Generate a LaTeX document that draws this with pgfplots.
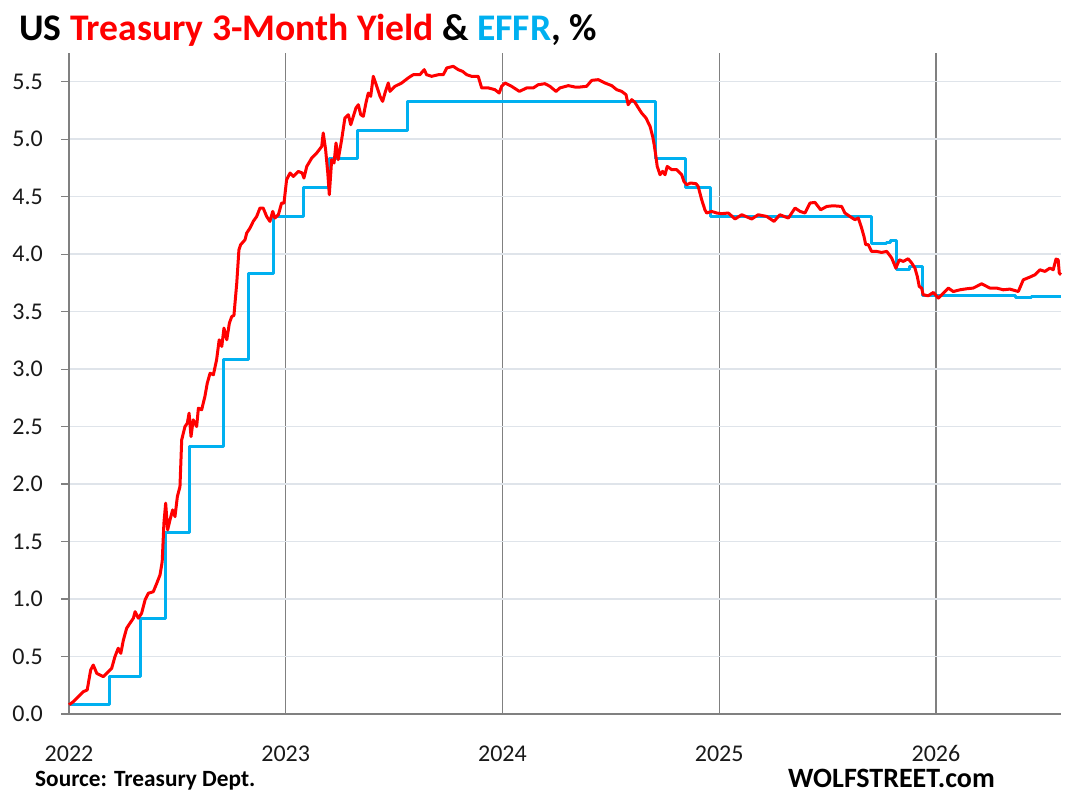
\documentclass[border=0pt]{standalone}
\usepackage{fontspec}
\setmainfont{Carlito}
\usepackage{pgfplots}
\pgfplotsset{compat=1.18}
\definecolor{tred}{HTML}{FF0000}
\definecolor{effr}{HTML}{00B0F0}
\definecolor{ygrid}{HTML}{DFE4EA}
\definecolor{xgrid}{HTML}{808080}
\begin{document}
\begin{tikzpicture}
\useasboundingbox (-69pt,-88pt) rectangle (1000pt,714pt);
\begin{axis}[
  at={(0pt,0pt)}, anchor=south west,
  scale only axis, width=992pt, height=661pt,
  xmin=2022, xmax=2026.577, ymin=0, ymax=5.75,
  axis x line=bottom, axis y line=left,
  axis line style={draw=xgrid, line width=1.2pt, -},
  xtick={2022,2023,2024,2025,2026},
  xticklabels={2022,2023,2024,2025,2026},
  ytick={0,0.5,...,5.5},
  yticklabel={\pgfmathprintnumber[fixed,fixed zerofill,precision=1]{\tick}},
  /pgf/number format/assume math mode=true,
  tick label style={font=\fontsize{24}{28}\selectfont, text=black!90},
  yticklabel style={anchor=east, inner sep=0pt, xshift=-18pt},
  xticklabel style={anchor=base, inner sep=0pt, yshift=-39.5pt},
  tick align=outside,
  major tick length=8pt,
  ytick style={draw=xgrid, line width=1.2pt},
  xtick style={draw=none},
  xmajorgrids, ymajorgrids,
  major x grid style={draw=xgrid, line width=1.2pt},
  major y grid style={draw=ygrid, line width=1.5pt},
  clip=false,
]
\addplot[const plot, draw=effr, line width=3pt, line join=round] coordinates {
(2022.000,0.08) (2022.189,0.33) (2022.331,0.83) (2022.446,1.58) (2022.558,2.33)
(2022.714,3.08) (2022.827,3.83) (2022.944,4.33) (2023.080,4.58) (2023.204,4.83)
(2023.330,5.08) (2023.561,5.33) (2024.708,4.83) (2024.845,4.58) (2024.959,4.33)
(2025.703,4.09) (2025.770,4.10) (2025.790,4.12) (2025.819,3.87) (2025.880,3.89)
(2025.937,3.64) (2026.365,3.62) (2026.442,3.63) (2026.577,3.63)
};
\addplot[draw=tred, line width=3pt, line join=round] coordinates {
(2022.000,0.08) (2022.020,0.107) (2022.043,0.151) (2022.066,0.194) (2022.084,0.209)
(2022.100,0.383) (2022.112,0.426) (2022.128,0.354) (2022.143,0.339) (2022.158,0.325)
(2022.174,0.354) (2022.197,0.398) (2022.212,0.499) (2022.227,0.572) (2022.239,0.528)
(2022.251,0.644) (2022.266,0.746) (2022.281,0.789) (2022.297,0.833) (2022.305,0.890)
(2022.320,0.833) (2022.335,0.876) (2022.351,0.992) (2022.366,1.050) (2022.389,1.064)
(2022.405,1.137) (2022.420,1.210) (2022.430,1.325) (2022.438,1.662) (2022.446,1.834)
(2022.455,1.601) (2022.466,1.688) (2022.478,1.775) (2022.489,1.717) (2022.500,1.891)
(2022.512,1.978) (2022.520,2.385) (2022.535,2.500) (2022.546,2.530) (2022.554,2.617)
(2022.563,2.413) (2022.573,2.559) (2022.589,2.500) (2022.597,2.661) (2022.612,2.646)
(2022.627,2.762) (2022.638,2.878) (2022.651,2.965) (2022.666,2.950) (2022.681,3.081)
(2022.693,3.255) (2022.705,3.197) (2022.715,3.357) (2022.728,3.255) (2022.740,3.400)
(2022.751,3.458) (2022.761,3.467) (2022.774,3.748) (2022.784,4.038) (2022.792,4.082)
(2022.812,4.125) (2022.820,4.184) (2022.835,4.227) (2022.850,4.285) (2022.866,4.328)
(2022.881,4.401) (2022.896,4.401) (2022.912,4.328) (2022.927,4.285) (2022.940,4.372)
(2022.950,4.314) (2022.966,4.343) (2022.981,4.445) (2022.992,4.445) (2023.004,4.648)
(2023.020,4.706) (2023.035,4.676) (2023.058,4.720) (2023.076,4.706) (2023.084,4.662)
(2023.097,4.763) (2023.120,4.836) (2023.143,4.880) (2023.166,4.937) (2023.173,5.054)
(2023.184,4.909) (2023.194,4.706) (2023.201,4.517) (2023.212,4.822) (2023.223,4.793)
(2023.232,4.967) (2023.242,4.822) (2023.258,4.996) (2023.273,5.185) (2023.289,5.213)
(2023.300,5.126) (2023.312,5.199) (2023.324,5.272) (2023.335,5.300) (2023.346,5.213)
(2023.358,5.199) (2023.370,5.315) (2023.381,5.402) (2023.392,5.373) (2023.404,5.547)
(2023.420,5.460) (2023.435,5.373) (2023.447,5.329) (2023.458,5.402) (2023.473,5.489)
(2023.481,5.416) (2023.504,5.460) (2023.535,5.489) (2023.565,5.533) (2023.588,5.561)
(2023.619,5.561) (2023.639,5.605) (2023.650,5.561) (2023.673,5.547) (2023.704,5.561)
(2023.727,5.561) (2023.743,5.620) (2023.773,5.634) (2023.796,5.605) (2023.816,5.590)
(2023.835,5.561) (2023.858,5.547) (2023.888,5.547) (2023.904,5.446) (2023.935,5.446)
(2023.965,5.431) (2023.985,5.402) (2023.996,5.460) (2024.012,5.489) (2024.042,5.460)
(2024.078,5.416) (2024.112,5.446) (2024.142,5.446) (2024.165,5.474) (2024.196,5.483)
(2024.219,5.460) (2024.247,5.416) (2024.265,5.446) (2024.304,5.466) (2024.334,5.454)
(2024.358,5.454) (2024.388,5.460) (2024.412,5.512) (2024.442,5.518) (2024.473,5.489)
(2024.504,5.466) (2024.527,5.431) (2024.550,5.416) (2024.570,5.387) (2024.580,5.300)
(2024.596,5.344) (2024.611,5.321) (2024.627,5.272) (2024.642,5.228) (2024.662,5.185)
(2024.681,5.111) (2024.693,5.024) (2024.700,4.952) (2024.708,4.850) (2024.714,4.763)
(2024.727,4.691) (2024.739,4.720) (2024.750,4.691) (2024.760,4.763) (2024.781,4.735)
(2024.804,4.735) (2024.827,4.691) (2024.837,4.633) (2024.850,4.604) (2024.868,4.619)
(2024.893,4.613) (2024.903,4.589) (2024.919,4.474) (2024.934,4.386) (2024.942,4.358)
(2024.965,4.372) (2024.988,4.358) (2025.011,4.352) (2025.042,4.358) (2025.073,4.306)
(2025.104,4.343) (2025.150,4.306) (2025.180,4.343) (2025.219,4.328) (2025.253,4.285)
(2025.280,4.343) (2025.319,4.314) (2025.350,4.401) (2025.373,4.372) (2025.396,4.358)
(2025.419,4.445) (2025.442,4.450) (2025.468,4.386) (2025.496,4.415) (2025.526,4.421)
(2025.565,4.415) (2025.580,4.358) (2025.603,4.328) (2025.626,4.300) (2025.642,4.314)
(2025.657,4.227) (2025.668,4.154) (2025.676,4.082) (2025.688,4.082) (2025.703,4.024)
(2025.726,4.024) (2025.749,4.015) (2025.773,4.024) (2025.796,3.966) (2025.815,3.879)
(2025.831,3.951) (2025.849,3.937) (2025.872,3.960) (2025.888,3.923) (2025.903,3.879)
(2025.914,3.806) (2025.923,3.719) (2025.934,3.705) (2025.941,3.647) (2025.964,3.638)
(2025.988,3.667) (2026.011,3.618) (2026.034,3.661) (2026.057,3.705) (2026.080,3.675)
(2026.111,3.690) (2026.142,3.699) (2026.172,3.705) (2026.211,3.742) (2026.249,3.705)
(2026.280,3.705) (2026.311,3.690) (2026.341,3.696) (2026.380,3.675) (2026.403,3.777)
(2026.434,3.801) (2026.457,3.821) (2026.480,3.864) (2026.503,3.850) (2026.526,3.879)
(2026.541,3.864) (2026.554,3.957) (2026.564,3.951) (2026.569,3.836) (2026.577,3.821)
};
\end{axis}
\node[anchor=base west, inner sep=0pt, font=\bfseries\fontsize{37.6}{42}\selectfont] at (-50pt,673pt)
  {US \textcolor{tred}{Treasury 3-Month Yield} \& \textcolor{effr}{EFFR}, \%};
\node[anchor=base west, inner sep=0pt, font=\bfseries\fontsize{23.3}{26}\selectfont] at (-34pt,-73pt)
  {Source: Treasury Dept.};
\node[anchor=base west, inner sep=0pt, font=\bfseries\fontsize{28}{32}\selectfont] at (719pt,-74pt)
  {WOLFSTREET.com};
\end{tikzpicture}
\end{document}
